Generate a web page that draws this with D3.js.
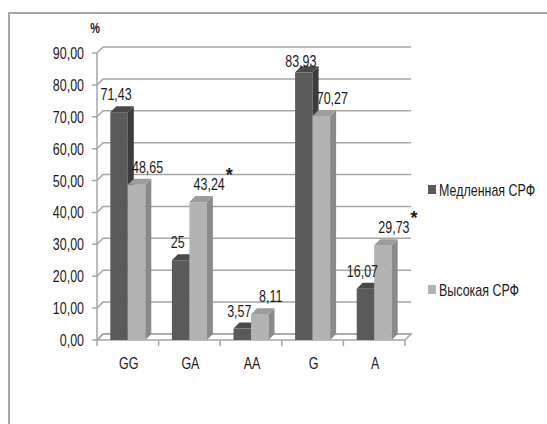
<!DOCTYPE html>
<html><head><meta charset="utf-8">
<script src="https://cdn.jsdelivr.net/npm/d3@7"></script>
<style>
body{margin:0;background:#fff}
svg text{font-family:"Liberation Sans",Arial,sans-serif;fill:#1a1a1a}
</style></head><body>
<svg id="c" width="547" height="424"></svg>
<script>
const categories = ["GG","GA","AA","G","A"];
const seriesNames = ["Медленная СРФ","Высокая СРФ"];
const slowValues = [71.43, 25, 3.57, 83.93, 16.07];
const highValues = [48.65, 43.24, 8.11, 70.27, 29.73];
const slowLabels = ["71,43","25","3,57","83,93","16,07"];
const highLabels = ["48,65","43,24","8,11","70,27","29,73"];
const significance = ["", "*", "", "", "*"];
const yTicks = [0,10,20,30,40,50,60,70,80,90];
const yUnit = "%";

const svg = d3.select("#c");
const DX = 6, DY = -6, SX = 0.78, FS = 16;
const x = d3.scaleBand().domain(categories).range([97, 405]);
const xs = d3.scaleBand().domain([0,1]).range([0, x.bandwidth()]).paddingOuter(0.76).paddingInner(0);
const y = d3.scaleLinear().domain([0, 90]).range([340, 53]);
const fmt = v => d3.format(".2f")(v).replace(".", ",");

function txt(parent, tx, ty, s, anchor, size) {
  return parent.append("text")
    .attr("transform", `translate(${tx},${ty}) scale(${SX},1)`)
    .attr("text-anchor", anchor || "middle")
    .attr("font-size", size || FS)
    .text(s);
}

// outer frame
svg.append("path").attr("d","M9,424 L9,13 L547,13").attr("fill","none").attr("stroke","#a6a6a6").attr("stroke-width",2);

// floor
const y0 = y(0);
svg.append("polygon")
  .attr("points",[[97,y0],[405,y0],[405+DX,y0+DY],[97+DX,y0+DY]].map(p=>p.join(",")).join(" "))
  .attr("fill","#fff").attr("stroke","#a6a6a6").attr("stroke-width",1.5);

// gridlines with hooks
const g = svg.append("g").attr("fill","none").attr("stroke","#a6a6a6").attr("stroke-width",1.5);
yTicks.forEach(t=>{
  const yy = y(t);
  g.append("path").attr("d",`M92,${yy} L97,${yy} L${97+DX},${yy+DY} L${405+DX},${yy+DY}`);
});
g.append("line").attr("x1",97).attr("x2",97).attr("y1",y(90)).attr("y2",y0);
const bounds = categories.map(c=>x(c)).concat([x(categories[categories.length-1])+x.bandwidth()]);
bounds.forEach(b=>g.append("line").attr("x1",b).attr("x2",b).attr("y1",y0).attr("y2",y0+6));

// y labels
const yl = svg.append("g");
yTicks.forEach(t=>txt(yl, 84, y(t)+6, fmt(t), "end"));
txt(svg, 95, 33, yUnit, "middle", 14).attr("font-weight","bold");

// x labels
const xl = svg.append("g");
categories.forEach(c=>txt(xl, x(c)+x.bandwidth()/2+1, 369, c));

// bars
const colors = [
  {front:"#5a5a5a", side:"#3c3c3c", top:"#4a4a4a"},
  {front:"#b3b3b3", side:"#8a8a8a", top:"#9c9c9c"}
];
const series = [slowValues, highValues];
const bars = svg.append("g");
categories.forEach((c,i)=>{
  series.forEach((vals,s)=>{
    const v = vals[i];
    const bx = x(c)+xs(s), w = xs.bandwidth(), by = y(v);
    const col = colors[s];
    bars.append("rect").attr("x",bx).attr("y",by).attr("width",w).attr("height",y0-by).attr("fill",col.front);
    bars.append("polygon").attr("points",[[bx+w,by],[bx+w+DX,by+DY],[bx+w+DX,y0+DY],[bx+w,y0]].map(p=>p.join(",")).join(" ")).attr("fill",col.side);
    bars.append("polygon").attr("points",[[bx,by],[bx+DX,by+DY],[bx+w+DX,by+DY],[bx+w,by]].map(p=>p.join(",")).join(" ")).attr("fill",col.top);
  });
});

// value labels
const lab = svg.append("g");
categories.forEach((c,i)=>{
  const w = xs.bandwidth();
  const bx0 = x(c)+xs(0), bx1 = x(c)+xs(1);
  txt(lab, bx0+w/2-3, Math.max(y(slowValues[i])-12, 67), slowLabels[i]);
  const lx = bx1+w/2+11, ly = y(highValues[i])-12;
  txt(lab, lx, ly, highLabels[i]);
  if (significance[i]) {
    lab.append("text").attr("x",lx+20).attr("y",ly-9).attr("text-anchor","middle")
      .attr("font-size",18).attr("font-weight","bold").text(significance[i]);
  }
});

// legend
const leg = svg.append("g");
seriesNames.forEach((n,s)=>{
  const ly = [190, 290][s];
  leg.append("rect").attr("x",428).attr("y",ly-5).attr("width",8).attr("height",9).attr("fill",colors[s].front);
  txt(leg, 439, ly+6, n, "start");
});
</script>
</body></html>
